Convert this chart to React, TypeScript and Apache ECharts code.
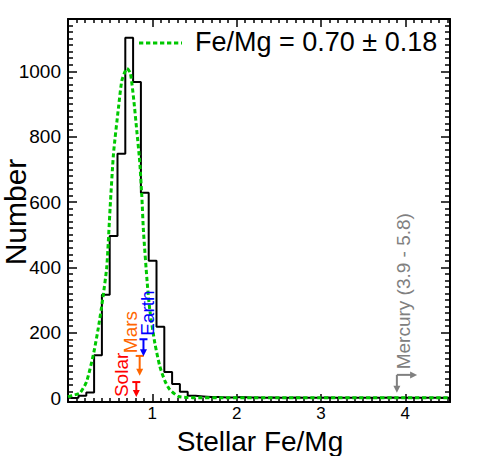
import React, { useEffect, useRef } from "react";
import * as echarts from "echarts";

// ---- data ----
const binStart = 0.032;
const binWidth = 0.0925;
const binCounts = [
  1, 7, 17, 131, 316, 496, 748, 1103, 967, 628,
  420, 218, 80, 43, 19, 7, 5, 3, 3, 2,
  2, 3, 2, 2, 1, 2, 1, 1, 2, 1,
  1, 1, 2, 1, 1, 1, 1, 1, 1, 1,
  2, 1, 1, 1, 1, 1, 1, 1, 1,
];

const fitX = [
  0.0, 0.05, 0.14, 0.22, 0.3, 0.36, 0.41, 0.46, 0.5, 0.54,
  0.6, 0.64, 0.7, 0.74, 0.78, 0.815, 0.85, 0.875, 0.895, 0.94,
  0.97, 1.03, 1.09, 1.15, 1.21, 1.31, 1.4, 1.55, 1.8, 2.2,
  2.6, 3.0, 3.5, 4.0, 4.53,
];
const fitY = [
  4, 8, 15, 50, 132, 215, 300, 402, 585, 749,
  892, 973, 1009, 994, 912, 820, 725, 620, 510, 351,
  270, 168, 96, 52, 25, 5, 2, 1, 1, 1,
  1, 1, 1, 1, 1,
];

const xMajorTicks = [1, 2, 3, 4];
const yMajorTicks = [0, 200, 400, 600, 800, 1000];
const xMin = 0;
const xMax = 4.53;
const yMin = -12;
const yMax = 1160;

const fitLabel = "Fe/Mg = 0.70 \u00b1 0.18";
const xTitle = "Stellar Fe/Mg";
const yTitle = "Number";

// planets / solar markers: name, Fe/Mg value, colour, arrow top & tip (counts), label centre (counts), label x offset (px)
const markerNames = ["Solar", "Mars", "Earth"];
const markerValues = [0.81, 0.85, 0.895];
const markerColors = ["#ff0000", "#ff6600", "#0000ff"];
const markerArrowTop = [49, 129, 180];
const markerArrowTip = [3, 68, 128];
const markerLabelY = [71, 202, 260];
const markerLabelDx = [-15, -9, 4];

const mercuryLabel = "Mercury (3.9 - 5.8)";
const mercuryValue = 3.9;
const mercuryArrowEnd = 4.14;
const mercuryCorner = 71;
const mercuryTip = 16;
const mercuryLabelY = 327;

const FONT = "'Liberation Sans', Arial, Helvetica, sans-serif";

export default function App() {
  const ref = useRef<HTMLDivElement>(null);

  useEffect(() => {
    const chart = echarts.init(ref.current!, null, { renderer: "svg" });

    const histPts: number[][] = [[binStart, 0]];
    binCounts.forEach((c, i) => {
      const l = binStart + i * binWidth;
      histPts.push([l, c], [l + binWidth, c]);
    });
    const fitPts = fitX.map((x, i) => [x, fitY[i]]);

    const xMinor: number[] = [];
    for (let k = 1; k <= 45; k++) if (k % 10) xMinor.push(k / 10);
    const yMinor: number[] = [];
    for (let v = 20; v <= 1140; v += 20) if (v % 200) yMinor.push(v);

    const tickStyle = { color: "#000", width: 1.5 };
    const mkAxis = (
      kind: "x" | "y",
      pos: string,
      ticks: number[],
      len: number,
      line: boolean,
      labels: boolean
    ) => ({
      type: "value",
      position: pos,
      min: kind === "x" ? xMin : yMin,
      max: kind === "x" ? xMax : yMax,
      axisLine: { show: line, onZero: false, lineStyle: { color: "#000", width: 2 } },
      axisTick: { show: true, inside: true, length: len, customValues: ticks, lineStyle: tickStyle },
      axisLabel: labels
        ? {
            show: true,
            customValues: ticks,
            color: "#000",
            fontSize: kind === "x" ? 17 : 19,
            fontFamily: FONT,
            margin: kind === "x" ? 3 : 7,
            formatter: (v: number) => String(v),
          }
        : { show: false },
      splitLine: { show: false },
      minorTick: { show: false },
    });

    chart.setOption({
      animation: false,
      backgroundColor: "#fff",
      grid: { left: 68, right: 48, top: 19, bottom: 54, containLabel: false },
      xAxis: [
        mkAxis("x", "bottom", xMajorTicks, 8, true, true),
        mkAxis("x", "bottom", xMinor, 4, false, false),
        mkAxis("x", "top", xMajorTicks, 8, true, false),
        mkAxis("x", "top", xMinor, 4, false, false),
      ],
      yAxis: [
        mkAxis("y", "left", yMajorTicks, 9, true, true),
        mkAxis("y", "left", yMinor, 5, false, false),
        mkAxis("y", "right", yMajorTicks, 9, true, false),
        mkAxis("y", "right", yMinor, 5, false, false),
      ],
      series: [
        {
          name: "Stellar Fe/Mg",
          type: "line",
          xAxisIndex: 0,
          yAxisIndex: 0,
          data: histPts,
          symbol: "none",
          clip: true,
          lineStyle: { color: "#000", width: 2 },
          z: 2,
        },
        {
          name: fitLabel,
          type: "line",
          xAxisIndex: 0,
          yAxisIndex: 0,
          data: fitPts,
          symbol: "none",
          smooth: 0.2,
          clip: true,
          lineStyle: { color: "#00c800", width: 3, type: [4.3, 2.7] },
          z: 3,
        },
      ],
    });

    const px = (x: number, y: number) =>
      chart.convertToPixel({ xAxisIndex: 0, yAxisIndex: 0 }, [x, y]) as number[];

    const g: any[] = [];
    const downArrow = (x: number, yTop: number, yTip: number, color: string, bar: boolean) => {
      g.push({
        type: "line",
        shape: { x1: x, y1: yTop, x2: x, y2: yTip - 5 },
        style: { stroke: color, lineWidth: 2 },
        z: 10,
      });
      if (bar)
        g.push({
          type: "line",
          shape: { x1: x - 4, y1: yTop, x2: x + 4, y2: yTop },
          style: { stroke: color, lineWidth: 2 },
          z: 10,
        });
      g.push({
        type: "polygon",
        shape: { points: [[x - 3.5, yTip - 7], [x + 3.5, yTip - 7], [x, yTip]] },
        style: { fill: color },
        z: 10,
      });
    };
    const vText = (x: number, y: number, text: string, color: string, size: number) =>
      g.push({
        type: "text",
        x,
        y,
        rotation: Math.PI / 2,
        style: {
          text,
          fill: color,
          fontSize: size,
          fontFamily: FONT,
          align: "center",
          verticalAlign: "middle",
        },
        z: 10,
      });

    markerNames.forEach((name, i) => {
      const [x, yTop] = px(markerValues[i], markerArrowTop[i]);
      const [, yTip] = px(markerValues[i], markerArrowTip[i]);
      downArrow(x, yTop, yTip, markerColors[i], true);
      const [, ly] = px(markerValues[i], markerLabelY[i]);
      vText(x + markerLabelDx[i], ly, name, markerColors[i], 19);
    });

    // Mercury
    {
      const grey = "#808080";
      const [mx, my] = px(mercuryValue, mercuryCorner);
      const [, mt] = px(mercuryValue, mercuryTip);
      const [ex] = px(mercuryArrowEnd, mercuryCorner);
      downArrow(mx, my, mt, grey, false);
      g.push({
        type: "line",
        shape: { x1: mx, y1: my, x2: ex - 5, y2: my },
        style: { stroke: grey, lineWidth: 2 },
        z: 10,
      });
      g.push({
        type: "polygon",
        shape: { points: [[ex - 7, my - 3.5], [ex - 7, my + 3.5], [ex, my]] },
        style: { fill: grey },
        z: 10,
      });
      const [, ly] = px(mercuryValue, mercuryLabelY);
      vText(mx + 7, ly, mercuryLabel, grey, 19);
    }

    // legend
    g.push({
      type: "line",
      shape: { x1: 139, y1: 43, x2: 182, y2: 43 },
      style: { stroke: "#00c800", lineWidth: 3, lineDash: [4.3, 2.7] },
      z: 10,
    });
    g.push({
      type: "text",
      x: 195,
      y: 42,
      style: {
        text: fitLabel,
        fill: "#000",
        fontSize: 27,
        fontFamily: FONT,
        align: "left",
        verticalAlign: "middle",
      },
      z: 10,
    });

    // axis titles
    g.push({
      type: "text",
      x: 260,
      y: 441,
      style: {
        text: xTitle,
        fill: "#000",
        fontSize: 28,
        fontFamily: FONT,
        align: "center",
        verticalAlign: "middle",
      },
      z: 10,
    });
    vText(15, 212, yTitle, "#000", 30);

    chart.setOption({ graphic: g });

    return () => chart.dispose();
  }, []);

  return (
    <div
      ref={ref}
      style={{ position: "fixed", left: 0, top: 0, width: 498, height: 456, background: "#fff" }}
    />
  );
}
